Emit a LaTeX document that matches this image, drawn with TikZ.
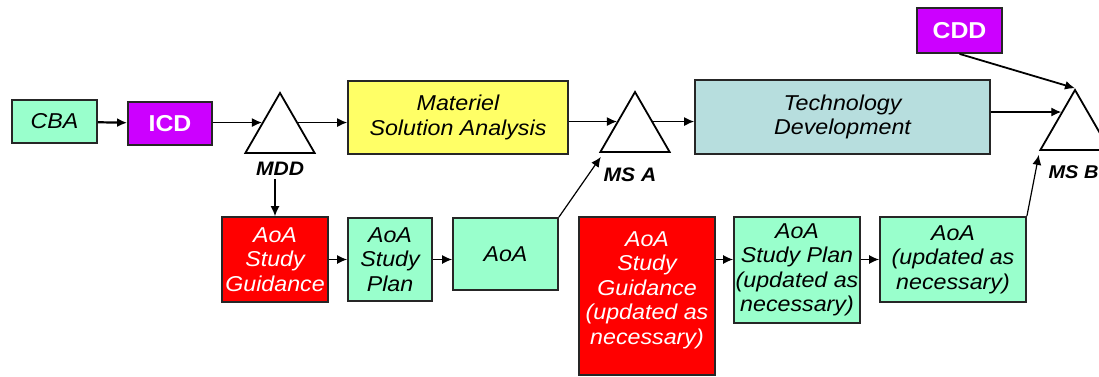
\documentclass[tikz,border=0pt]{standalone}
\usepackage{fontspec}
\setmainfont[FakeStretch=1.08]{Liberation Sans}
\usetikzlibrary{arrows.meta,positioning,calc,shapes.geometric}

\definecolor{mint}{RGB}{153,255,204}
\definecolor{docpurple}{RGB}{204,0,255}
\definecolor{msayellow}{RGB}{255,255,102}
\definecolor{tdblue}{RGB}{183,222,222}
\definecolor{aoared}{RGB}{255,0,0}

\begin{document}
\begin{tikzpicture}[x=1pt, y=-1pt,
    box/.style={draw=black!85, line width=1.8pt, align=center, inner sep=0pt,
        font=\itshape\fontsize{21.5}{24.5}\selectfont},
    docbox/.style={draw=black!85, line width=1.8pt, fill=docpurple, text=white,
        inner sep=0pt, font=\bfseries\fontsize{23}{26}\selectfont},
    milestone/.style={draw=black, line width=1.8pt, fill=white, regular polygon,
        regular polygon sides=3, minimum size=80pt, inner sep=0pt},
    mslabel/.style={font=\bfseries\itshape\fontsize{19.5}{22}\selectfont},
    flow/.style={-{Latex[length=10pt,width=9pt]}, line width=1.2pt}]
    \useasboundingbox (0,0) rectangle (1099,377);

    % Top row
    \node[box, fill=mint, minimum width=85pt, minimum height=43pt] (cba) at (54.5,121.5) {CBA};
    \node[docbox, minimum width=84pt, minimum height=43pt] (icd) at (170,123.5) {ICD};
    \node[milestone] (mdd) at (280,133) {};
    \node[mslabel] (mddlbl) at (280,169) {MDD};
    \node[box, fill=msayellow, minimum width=220pt, minimum height=73pt] (msa) at (458,117.5)
        {Materiel\\Solution Analysis};
    \node[milestone] (msA) at (635,132) {};
    \node[mslabel] (msAlbl) at (630,175) {MS A};
    \node[box, fill=tdblue, minimum width=295pt, minimum height=74pt] (td) at (842.5,117)
        {Technology\\Development};
    \node[docbox, minimum width=85pt, minimum height=45pt] (cdd) at (959.5,30.5) {CDD};
    \node[milestone] (msB) at (1075,130) {};
    \node[mslabel, font=\bfseries\itshape\fontsize{18.5}{22}\selectfont, anchor=west] (msBlbl)
        at (1045,172) {MS B};

    % Bottom row
    \node[box, fill=aoared, text=white, minimum width=106pt, minimum height=85pt] (sg) at (275,259.5)
        {AoA\\Study\\Guidance};
    \node[box, fill=mint, minimum width=84pt, minimum height=83pt] (sp) at (390,259.5)
        {AoA\\Study\\Plan};
    \node[box, fill=mint, minimum width=105pt, minimum height=72pt] (aoa) at (505.5,254) {AoA};
    \node[box, fill=aoared, text=white, minimum width=136pt, minimum height=158pt] (sgu) at (647,296)
        {AoA\\Study\\Guidance\\(updated as\\necessary)\\[-8pt]};
    \node[box, fill=mint, minimum width=126pt, minimum height=106pt] (spu) at (797,270)
        {AoA\\Study Plan\\(updated as\\necessary)};
    \node[box, fill=mint, minimum width=146pt, minimum height=85pt] (aoau) at (953,259.5)
        {AoA\\(updated as\\necessary)};

    % Points on the milestone sides
    \coordinate (mddin) at ($(mdd.corner 1)!0.5!(mdd.corner 2)$);
    \coordinate (mddout) at ($(mdd.corner 1)!0.5!(mdd.corner 3)$);
    \coordinate (msAin) at ($(msA.corner 1)!0.5!(msA.corner 2)$);
    \coordinate (msAout) at ($(msA.corner 1)!0.5!(msA.corner 3)$);
    \coordinate (msBin) at ($(msB.corner 1)!0.38!(msB.corner 2)$);
    \coordinate (msAbase) at ($(msA.corner 2)+(2,4)$);
    \coordinate (msBbase) at ($(msB.corner 2)+(0,4)$);

    % Connectors
    \draw[flow, line width=2.2pt] (cba) -- (icd);
    \draw[flow] (icd.east |- mddin) -- (mddin);
    \draw[flow] (mddout) -- (mddout -| msa.west);
    \draw[flow] (msa.east |- msAin) -- (msAin);
    \draw[flow] (msAout) -- (msAout -| td.west);
    \draw[flow] (td.east |- msBin) -- (msBin);
    \draw[flow, line width=1.8pt] (cdd.south) -- (msB.corner 1);
    \draw[flow] (sg.north |- mddlbl.south) -- (sg.north);
    \draw[flow] (sg) -- (sp);
    \draw[flow] (sp) -- (sp -| aoa.west);
    \draw[flow] (aoa.north east) -- (msAbase);
    \draw[flow] (sgu.east |- aoau) -- (spu.west |- aoau);
    \draw[flow] (spu.east |- aoau) -- (aoau.west);
    \draw[flow] (aoau.north east) -- (msBbase);
\end{tikzpicture}
\end{document}
